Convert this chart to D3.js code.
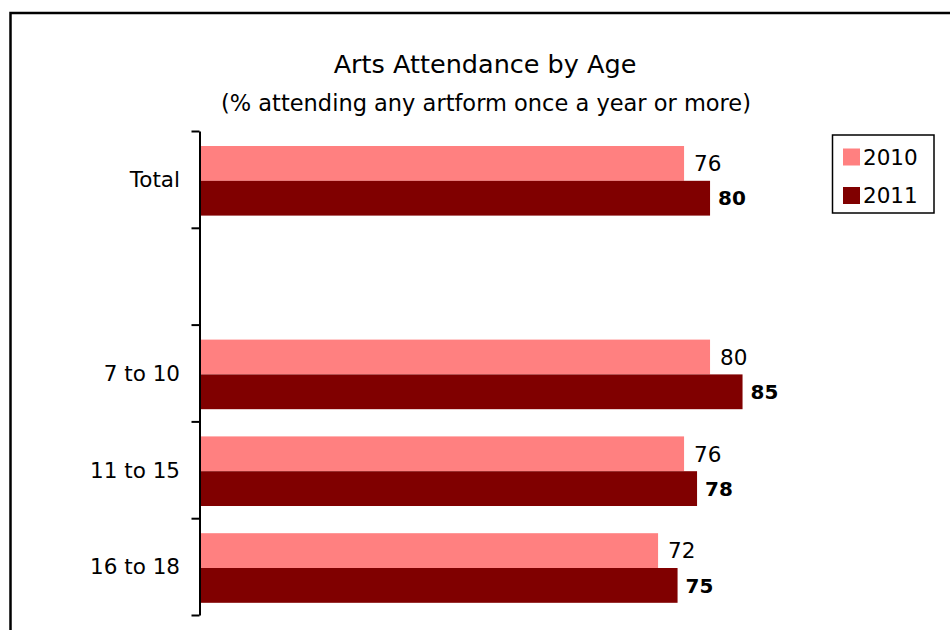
<!DOCTYPE html>
<html>
<head>
<meta charset="utf-8">
<script src="https://cdn.jsdelivr.net/npm/d3@7"></script>
<style>
  html, body { margin: 0; padding: 0; background: #fff; }
  svg { display: block; font-family: "DejaVu Sans", Lato, sans-serif; }
</style>
</head>
<body>
<svg id="chart" width="950" height="630"></svg>
<script>
// Age groups (the blank entry is the spacer row under "Total")
const categories = ["Total", "", "7 to 10", "11 to 15", "16 to 18"];
const seriesNames = ["2010", "2011"];
const values2010 = [76, null, 80, 76, 72];
const values2011 = [80, null, 85, 78, 75];
const colors = ["#ff8080", "#800000"];

const svg = d3.select("#chart");

// Outer frame
svg.append("rect")
  .attr("x", 10.5).attr("y", 13)
  .attr("width", 960).attr("height", 640)
  .attr("fill", "none").attr("stroke", "#000").attr("stroke-width", 2.5);

// Titles
svg.append("text")
  .attr("x", 485).attr("y", 73)
  .attr("text-anchor", "middle")
  .attr("font-size", 25.5)
  .attr("fill", "#000")
  .text("Arts Attendance by Age");
svg.append("text")
  .attr("x", 486).attr("y", 111)
  .attr("text-anchor", "middle")
  .attr("font-size", 22.5)
  .attr("fill", "#000")
  .text("(% attending any artform once a year or more)");

// Scales
const axisX = 200;
const keys = categories.map((c, i) => "c" + i);
const y = d3.scaleBand().domain(keys).range([131, 615]).paddingInner(0).paddingOuter(0);
const y1 = d3.scaleBand().domain(seriesNames)
  .range([y.bandwidth() * 0.155, y.bandwidth() * 0.155 + 69.6]);
const x = d3.scaleLinear().domain([1.5, 100]).range([axisX, 840]);

const rows = categories.map((c, i) => ({
  key: keys[i], label: c,
  vals: [values2010[i], values2011[i]]
}));

const g = svg.append("g");
const groups = g.selectAll("g.grp").data(rows).join("g")
  .attr("class", "grp")
  .attr("transform", d => `translate(0,${y(d.key)})`);

groups.each(function(d) {
  const sel = d3.select(this);
  seriesNames.forEach((s, j) => {
    const v = d.vals[j];
    if (v == null) return;
    sel.append("rect")
      .attr("x", axisX)
      .attr("y", y1(s))
      .attr("width", x(v) - axisX)
      .attr("height", y1.bandwidth())
      .attr("fill", colors[j]);
    sel.append("text")
      .attr("x", x(v) + (j === 0 ? 10 : 8))
      .attr("y", y1(s) + y1.bandwidth() / 2)
      .attr("dy", "0.36em")
      .attr("font-size", j === 1 ? 20 : 21.5)
      .attr("font-weight", j === 1 ? "bold" : "normal")
      .attr("fill", "#000")
      .text(v);
  });
});

// Category axis with ticks between groups
const tickScale = d3.scaleLinear().domain([0, categories.length]).range([131, 615]);
const axis = d3.axisLeft(tickScale)
  .tickValues(d3.range(0, categories.length + 1))
  .tickFormat("")
  .tickSizeInner(8)
  .tickSizeOuter(0);
const axG = svg.append("g").attr("transform", `translate(${axisX - 0.5},0)`).call(axis);
axG.selectAll("path, line").attr("stroke", "#000").attr("stroke-width", 2);

// Category labels
svg.append("g").selectAll("text").data(rows).join("text")
  .attr("x", 180)
  .attr("y", d => y(d.key) + y.bandwidth() / 2)
  .attr("dy", "0.36em")
  .attr("text-anchor", "end")
  .attr("font-size", 21.5)
  .attr("fill", "#000")
  .text(d => d.label);

// Legend
const lg = svg.append("g");
lg.append("rect")
  .attr("x", 832.5).attr("y", 135)
  .attr("width", 101.5).attr("height", 78)
  .attr("fill", "#fff").attr("stroke", "#000").attr("stroke-width", 1.5);
seriesNames.forEach((s, j) => {
  const cy = j === 0 ? 157 : 195.5;
  lg.append("rect")
    .attr("x", 843).attr("y", cy - 8.5)
    .attr("width", 17).attr("height", 17)
    .attr("fill", colors[j]);
  lg.append("text")
    .attr("x", 863).attr("y", cy)
    .attr("dy", "0.36em")
    .attr("font-size", 21.5)
    .attr("fill", "#000")
    .text(s);
});
</script>
</body>
</html>
